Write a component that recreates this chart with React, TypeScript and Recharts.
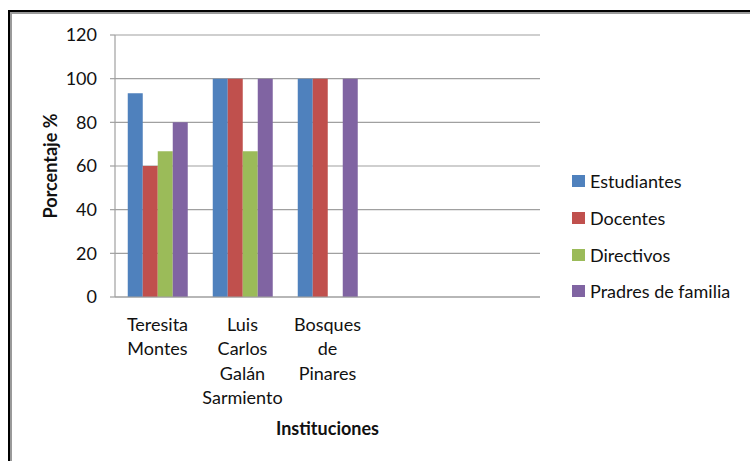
import React from 'react';
import { BarChart, Bar, XAxis, YAxis, CartesianGrid, Legend, Label } from 'recharts';

const categoryLines: string[][] = [
  ['Teresita', 'Montes'],
  ['Luis', 'Carlos', 'Galán', 'Sarmiento'],
  ['Bosques', 'de', 'Pinares'],
  [],
  [],
];
const estudiantes = [93.3, 100, 100, null, null];
const docentes = [60, 100, 100, null, null];
const directivos = [66.7, 66.7, 0, null, null];
const padres = [80, 100, 100, null, null];
const yTicks = [0, 20, 40, 60, 80, 100, 120];

const seriesNames = ['Estudiantes', 'Docentes', 'Directivos', 'Pradres de familia'];
const seriesColors = ['#4F81BD', '#C0504D', '#9BBB59', '#8064A2'];

const data = categoryLines.map((lines, i) => ({
  key: 'c' + i,
  lines,
  s0: estudiantes[i],
  s1: docentes[i],
  s2: directivos[i],
  s3: padres[i],
}));

const FONT = 'Lato, "DejaVu Sans", sans-serif';
const FS = 18;

const XTick = (props: any) => {
  const { x, y, index } = props;
  const lines = categoryLines[index] || [];
  return (
    <g>
      {lines.map((l, j) => (
        <text
          key={j}
          x={x}
          y={y + 27 + j * 24.3}
          textAnchor="middle"
          dominantBaseline="central"
          fontFamily={FONT}
          fontSize={FS}
          fill="#111"
        >
          {l}
        </text>
      ))}
    </g>
  );
};

const LegendContent = () => (
  <div style={{ fontFamily: FONT, fontSize: FS, color: '#111' }}>
    {seriesNames.map((n, i) => (
      <div key={n} style={{ display: 'flex', alignItems: 'center', height: 36.7 }}>
        <span style={{ width: 13, height: 12, background: seriesColors[i], display: 'inline-block', marginRight: 5 }} />
        <span>{n}</span>
      </div>
    ))}
  </div>
);

export default function App() {
  return (
    <div style={{ position: 'absolute', left: 0, top: 0, width: 750, height: 461, background: '#fff', overflow: 'hidden' }}>
      <div style={{ position: 'absolute', left: 8, top: 10, width: 742, height: 2, background: '#000' }} />
      <div style={{ position: 'absolute', left: 8, top: 10, width: 2, height: 451, background: '#000' }} />
      <div style={{ position: 'absolute', left: 10, top: 12, width: 740, height: 2, background: '#9a9a9a' }} />
      <div style={{ position: 'absolute', left: 10, top: 12, width: 2, height: 449, background: '#9a9a9a' }} />
      <div style={{ position: 'absolute', left: 0, top: 0 }}>
        <BarChart
          width={750}
          height={461}
          data={data}
          margin={{ top: 35, right: 32, bottom: 0, left: 0 }}
          barCategoryGap="15%"
          barGap={0}
        >
          <CartesianGrid vertical={false} stroke="#a0a0a0" strokeWidth={1.2} />
          <XAxis
            dataKey="key"
            height={164}
            axisLine={{ stroke: '#a0a0a0', strokeWidth: 1.2 }}
            tickLine={false}
            tickSize={0}
            tickMargin={0}
            interval={0}
            tick={<XTick />}
          >
            <Label
              content={(p: any) => {
                const vb = p.viewBox;
                return (
                  <text
                    x={vb.x + vb.width / 2}
                    y={428}
                    textAnchor="middle"
                    dominantBaseline="central"
                    fontFamily={FONT}
                    fontSize={FS}
                    fontWeight="bold"
                    fill="#111"
                  >
                    Instituciones
                  </text>
                );
              }}
            />
          </XAxis>
          <YAxis
            width={115}
            domain={[0, 120]}
            ticks={yTicks}
            interval={0}
            axisLine={{ stroke: '#a0a0a0', strokeWidth: 1.2 }}
            tickLine={{ stroke: '#a0a0a0', strokeWidth: 1.2 }}
            tickSize={5}
            tickMargin={13}
            tick={{ fontFamily: FONT, fontSize: FS, fill: '#111' }}
          >
            <Label
              content={(p: any) => {
                const vb = p.viewBox;
                const cy = vb.y + vb.height / 2;
                return (
                  <text
                    x={50}
                    y={cy}
                    transform={`rotate(-90 50 ${cy})`}
                    textAnchor="middle"
                    dominantBaseline="central"
                    fontFamily={FONT}
                    fontSize={FS}
                    fontWeight="bold"
                    fill="#111"
                  >
                    Porcentaje %
                  </text>
                );
              }}
            />
          </YAxis>
          <Legend
            layout="vertical"
            verticalAlign="top"
            align="right"
            content={<LegendContent />}
            wrapperStyle={{ position: 'absolute', left: 572, top: 163, width: 178 }}
          />
          <Bar dataKey="s0" name={seriesNames[0]} fill={seriesColors[0]} isAnimationActive={false} />
          <Bar dataKey="s1" name={seriesNames[1]} fill={seriesColors[1]} isAnimationActive={false} />
          <Bar dataKey="s2" name={seriesNames[2]} fill={seriesColors[2]} isAnimationActive={false} />
          <Bar dataKey="s3" name={seriesNames[3]} fill={seriesColors[3]} isAnimationActive={false} />
        </BarChart>
      </div>
    </div>
  );
}
